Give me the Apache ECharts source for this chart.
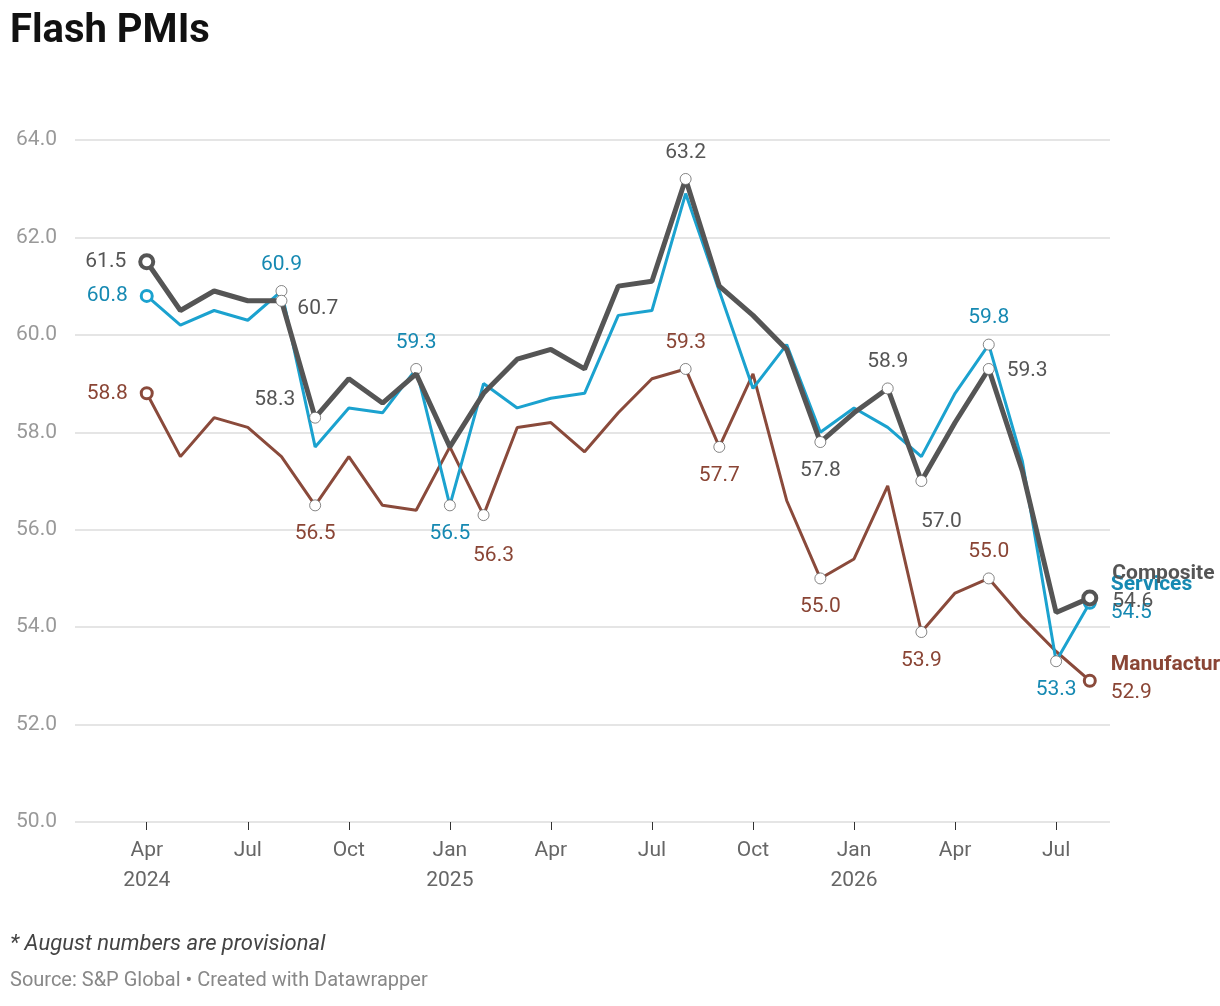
<!DOCTYPE html><html><head><meta charset="utf-8">
<script src="https://cdn.jsdelivr.net/npm/echarts@6/dist/echarts.min.js"></script>
<style>body{margin:0;background:#fff}#c{width:1220px;height:1006px}</style></head><body><div id="c"></div>
<script>
// months index 0 = Apr 2024 ... 28 = Aug 2026
const months=["Apr 2024","May 2024","Jun 2024","Jul 2024","Aug 2024","Sep 2024","Oct 2024","Nov 2024","Dec 2024","Jan 2025","Feb 2025","Mar 2025","Apr 2025","May 2025","Jun 2025","Jul 2025","Aug 2025","Sep 2025","Oct 2025","Nov 2025","Dec 2025","Jan 2026","Feb 2026","Mar 2026","Apr 2026","May 2026","Jun 2026","Jul 2026","Aug 2026"];
const composite=[61.5,60.5,60.9,60.7,60.7,58.3,59.1,58.6,59.2,57.7,58.8,59.5,59.7,59.3,61.0,61.1,63.2,61.0,60.4,59.7,57.8,58.4,58.9,57.0,58.2,59.3,57.2,54.3,54.6];
const services=[60.8,60.2,60.5,60.3,60.9,57.7,58.5,58.4,59.3,56.5,59.0,58.5,58.7,58.8,60.4,60.5,62.9,60.9,58.9,59.8,58.0,58.5,58.1,57.5,58.8,59.8,57.4,53.3,54.5];
const manufacturing=[58.8,57.5,58.3,58.1,57.5,56.5,57.5,56.5,56.4,57.7,56.3,58.1,58.2,57.6,58.4,59.1,59.3,57.7,59.2,56.6,55.0,55.4,56.9,53.9,54.7,55.0,54.2,53.5,52.9];
const tickIdx=[0,3,6,9,12,15,18,21,24,27];
const tickLabels=["Apr\n2024","Jul","Oct","Jan\n2025","Apr","Jul","Oct","Jan\n2026","Apr","Jul"];
// labelled points: index -> label placement
const compLab={0:['left',[-6,0]],4:['right',[4,8]],5:['left',[-8,-18]],16:['top',[0,-4]],20:['bottom',[0,6]],22:['top',[0,-4]],23:['bottom',[20,18]],25:['right',[6,2]]};
const servLab={0:['left',[-6,0]],4:['top',[0,-4]],8:['top',[0,-4]],9:['bottom',[0,6]],25:['top',[0,-4]],27:['bottom',[0,6]]};
const manLab={0:['left',[-6,0]],5:['bottom',[0,6]],10:['bottom',[10,18]],16:['top',[0,-4]],17:['bottom',[0,6]],20:['bottom',[0,6]],23:['bottom',[0,6]],25:['top',[0,-4]]};
const names=["Composite","Services","Manufacturing"];
const colors=["#555555","#1ba2cf","#8a4a3b"];
const labColors=["#555555","#1689b2","#8a4535"];
function build(vals,labs,ci,w){
  return vals.map((v,i)=>{
    const last=i===vals.length-1, first=i===0;
    const d={value:[i,v]};
    if(labs[i]||last){
      d.symbol='circle';
      d.symbolSize=(first||last)?(ci===0?13:11):11;
      d.itemStyle={color:'#fff',borderColor:(first||last)?colors[ci]:'#666',borderWidth:(first||last)?(ci===0?4:3):0.8};
      if(last){
        d.label={show:true,position:'right',distance:14,offset:[0,ci===0?-10:ci===1?-4:-2],color:labColors[ci],formatter:'{b|'+names[ci]+'}\n'+v.toFixed(1),rich:{b:{fontWeight:'bold',fontSize:21,color:labColors[ci],fontFamily:'Roboto'}},lineHeight:28,fontSize:21};
      } else {
        const L=labs[i];
        d.label={show:true,position:L[0],offset:L[1],distance:6,color:labColors[ci],fontSize:21,formatter:v.toFixed(1)};
      }
    } else {d.symbol='none';}
    return d;
  });
}
const ch=echarts.init(document.getElementById('c'));
ch.setOption({
  animation:false,
  textStyle:{fontFamily:'Roboto'},
  grid:{left:75,right:110,top:140,bottom:184,containLabel:false},
  xAxis:{type:'value',min:-2.13,max:28.6,
    axisLine:{show:false},axisTick:{show:true,customValues:tickIdx,length:8,lineStyle:{color:'#333'}},splitLine:{show:false},
    axisLabel:{customValues:tickIdx,color:'#666',fontSize:21,lineHeight:30,margin:14,formatter:v=>tickLabels[tickIdx.indexOf(Math.round(v))]||''}},
  yAxis:{type:'value',min:50,max:64,interval:2,
    axisLabel:{color:'#999',fontSize:21,formatter:v=>v.toFixed(1),margin:18,inside:false},
    splitLine:{lineStyle:{color:'#ddd',width:1.5}},axisLine:{show:false},axisTick:{show:false}},
  series:[
    {type:'line',name:'Manufacturing',data:build(manufacturing,manLab,2),lineStyle:{color:colors[2],width:3},itemStyle:{color:colors[2]},z:2},
    {type:'line',name:'Services',data:build(services,servLab,1),lineStyle:{color:colors[1],width:3},itemStyle:{color:colors[1]},z:3},
    {type:'line',name:'Composite',data:build(composite,compLab,0),lineStyle:{color:colors[0],width:5},itemStyle:{color:colors[0]},z:4}
  ],
  graphic:[
    {type:'text',left:10,top:12,style:{text:'Flash PMIs',font:'bold 40px Roboto',fill:'#111'}},
    {type:'text',left:10,top:933,style:{text:'* August numbers are provisional',font:'italic 22px Roboto',fill:'#444'}},
    {type:'text',left:10,top:971,style:{text:'Source: S&P Global • Created with Datawrapper',font:'20px Roboto',fill:'#888'}}
  ]
});
</script></body></html>
